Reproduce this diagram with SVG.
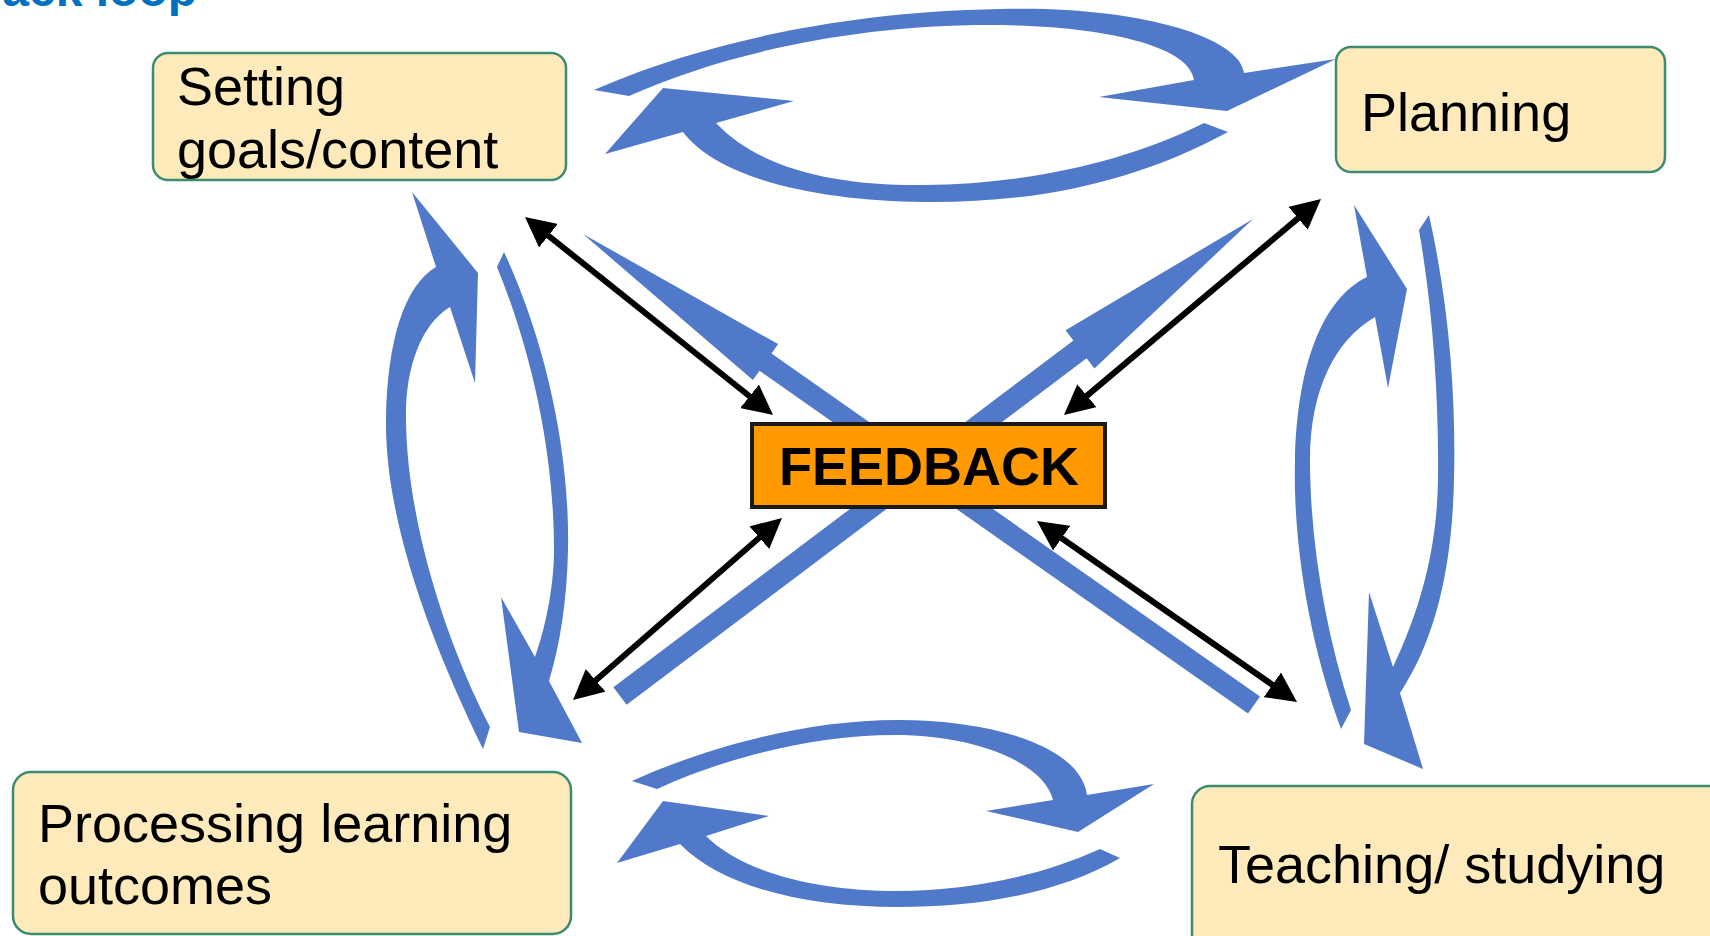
<svg xmlns="http://www.w3.org/2000/svg" width="1710" height="936" viewBox="0 0 1710 936">
  <style>
    .node rect { fill: #FEEABB; stroke: #3C8C72; stroke-width: 2.5; }
    .label { font-family: "Liberation Sans", Arial, sans-serif; font-size: 54px; fill: #000; }
    .blue { fill: #5079C9; stroke: none; }
    .dbl { stroke: #000; stroke-width: 6; fill: none; marker-start: url(#head); marker-end: url(#head); }
    .title { font-family: "Liberation Sans", Arial, sans-serif; font-size: 48px; font-weight: bold; fill: #0070C0; }
  </style>
  <defs>
    <marker id="head" viewBox="0 0 30 30" refX="10" refY="15" markerWidth="30" markerHeight="30" markerUnits="userSpaceOnUse" orient="auto-start-reverse">
      <path d="M0,0 L30,15 L0,30 Z" fill="#000"/>
    </marker>
  </defs>
  <rect width="1710" height="936" fill="#FFFFFF"/>
  <text class="title" x="-139" y="6">Feedback loop</text>

  <g id="connectors">
    <!-- top loop -->
    <path class="blue" d="M594,90 C680,52 820,12 1000,9 C1130,5 1240,35 1244,73 L1336,59 L1227,111 L1099,97 L1194,80 C1190,45 1100,25 990,25 C850,25 720,55 629,96 Z"/>
    <path class="blue" d="M1228,132 C1130,185 1030,203 924,202 C820,201 720,180 683,132 L605,154 L663,88 L794,101 L716,123 C760,170 840,186 924,185 C1020,184 1120,165 1204,123 Z"/>
    <!-- bottom loop -->
    <path class="blue" d="M632,781 C700,750 800,720 898,720 C990,720 1080,745 1087,795 L1154,784 L1078,832 L986,811 L1053,800 C1045,765 980,735 894,735 C810,735 720,760 657,789 Z"/>
    <path class="blue" d="M1120,858 C1060,893 980,907 898,907 C800,907 720,885 680,844 L617,863 L663,801 L769,816 L706,836 C740,870 810,891 898,891 C970,891 1040,876 1100,849 Z"/>
    <!-- left loop -->
    <path class="blue" d="M483,749 C430,640 385,520 386,420 C387,340 405,285 436,267 L412,192 L478,273 L475,383 L450,307 C420,325 405,370 406,420 C407,520 445,640 490,727 Z"/>
    <path class="blue" d="M504,252 C545,340 570,450 568,550 C567,600 560,645 549,681 L582,743 L519,732 L501,597 L535,657 C548,620 554,580 554,550 C554,460 535,360 497,267 Z"/>
    <!-- right loop -->
    <path class="blue" d="M1341,729 C1305,630 1293,530 1295,460 C1297,370 1320,300 1367,277 L1354,205 L1407,289 L1388,388 L1375,317 C1335,340 1310,390 1310,460 C1310,540 1325,630 1351,710 Z"/>
    <path class="blue" d="M1429,215 C1450,310 1456,400 1454,480 C1452,570 1435,640 1400,693 L1423,769 L1364,744 L1369,592 L1393,667 C1420,610 1437,550 1438,480 C1439,400 1433,310 1419,230 Z"/>
    <!-- central cross -->
    <polygon class="blue" points="613.4,687.2 1073.4,340.6 1065.6,330.2 1253,219 1094.4,368.6 1086.6,358.2 626.6,704.8"/>
    <polygon class="blue" points="583,234 778.1,344.1 771.5,353.5 1260,696.4 1248,713.6 759.5,370.7 752.9,380.1"/>
    <!-- black double arrows -->
    <line class="dbl" x1="540.6" y1="229.5" x2="757.4" y2="402.5"/>
    <line class="dbl" x1="1079.3" y1="402.1" x2="1305.7" y2="211.9"/>
    <line class="dbl" x1="588.1" y1="686.9" x2="766.9" y2="531.1"/>
    <line class="dbl" x1="1053.4" y1="532.5" x2="1280.6" y2="690.5"/>
  </g>

  <g id="node-setting" class="node">
    <rect x="153" y="53" width="413" height="127" rx="15"/>
    <text class="label" x="177" y="105">Setting</text>
    <text class="label" x="177" y="168">goals/content</text>
  </g>
  <g id="node-planning" class="node">
    <rect x="1336" y="47" width="329" height="125" rx="15"/>
    <text class="label" x="1361" y="131">Planning</text>
  </g>
  <g id="node-processing" class="node">
    <rect x="13" y="772" width="558" height="162" rx="18"/>
    <text class="label" x="38" y="842">Processing learning</text>
    <text class="label" x="38" y="904">outcomes</text>
  </g>
  <g id="node-teaching" class="node">
    <rect x="1192" y="786" width="540" height="175" rx="18"/>
    <text class="label" x="1218" y="883">Teaching/ studying</text>
  </g>
  <g id="node-feedback">
    <rect x="752" y="424" width="353" height="83" fill="#FF9900" stroke="#1A1A1A" stroke-width="4"/>
    <text x="929" y="485" text-anchor="middle" font-family="Liberation Sans, Arial, sans-serif" font-size="54" font-weight="bold" fill="#000">FEEDBACK</text>
  </g>
</svg>
